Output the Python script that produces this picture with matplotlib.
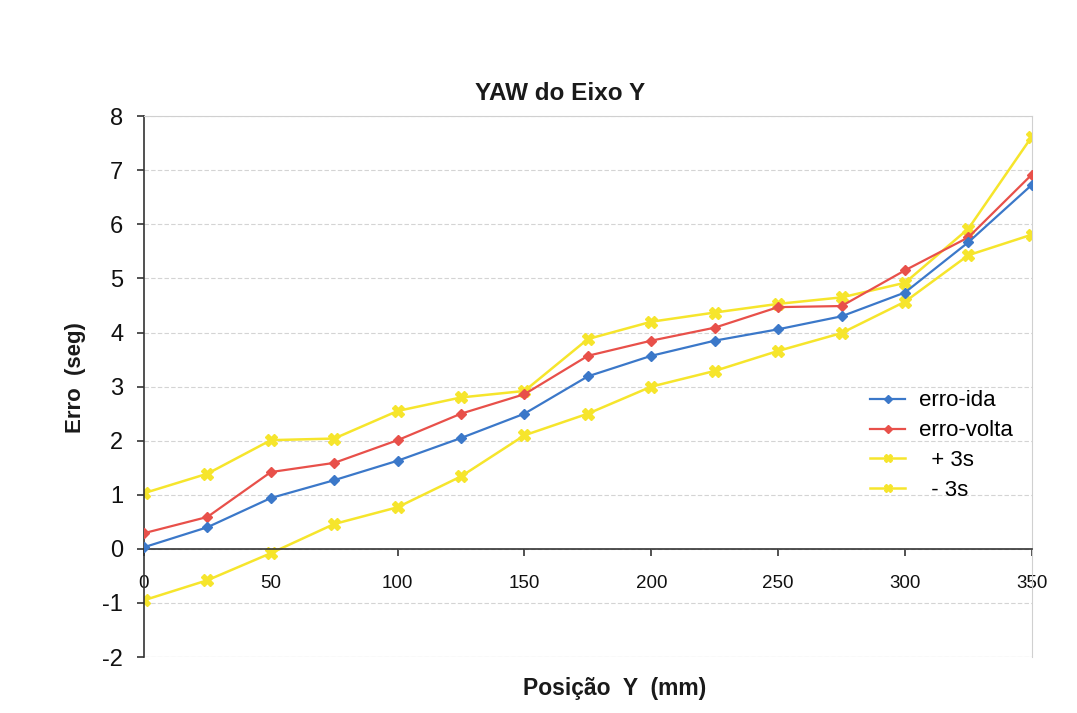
import matplotlib
matplotlib.use("Agg")
import matplotlib.pyplot as plt

plt.rcParams['font.family'] = ['Liberation Sans', 'DejaVu Sans']
plt.rcParams['axes.unicode_minus'] = False

posicao = [0, 25, 50, 75, 100, 125, 150, 175, 200, 225, 250, 275, 300, 325, 350]
erro_ida = [0.03, 0.40, 0.94, 1.27, 1.63, 2.05, 2.50, 3.19, 3.57, 3.85, 4.06, 4.30, 4.74, 5.67, 6.73]
erro_volta = [0.29, 0.59, 1.42, 1.59, 2.01, 2.50, 2.86, 3.57, 3.85, 4.09, 4.47, 4.49, 5.15, 5.76, 6.92]
mais_3s = [1.03, 1.39, 2.01, 2.04, 2.55, 2.80, 2.92, 3.88, 4.20, 4.37, 4.53, 4.65, 4.92, 5.92, 7.62]
menos_3s = [-0.95, -0.58, -0.08, 0.46, 0.77, 1.34, 2.10, 2.50, 3.00, 3.29, 3.66, 3.99, 4.57, 5.43, 5.81]

titulo = "YAW do Eixo Y"
rotulo_x = "Posição  Y  (mm)"
rotulo_y = "Erro  (seg)"
x_ticks = [0, 50, 100, 150, 200, 250, 300, 350]
y_ticks = [-2, -1, 0, 1, 2, 3, 4, 5, 6, 7, 8]

azul = "#3b78c9"
vermelho = "#e8504a"
amarelo = "#f6e52c"

fig = plt.figure(figsize=(10.77, 7.13), dpi=100)
ax = fig.add_axes([0.1337, 0.0785, 0.958 - 0.1337, 0.837 - 0.0785])

ax.plot(posicao, erro_ida, color=azul, lw=1.6, marker='D', ms=5, label="erro-ida", zorder=4)
ax.plot(posicao, erro_volta, color=vermelho, lw=1.6, marker='D', ms=5, label="erro-volta", zorder=3)
ax.plot(posicao, mais_3s, color=amarelo, lw=1.8, marker='X', ms=8, label="  + 3s", zorder=2)
ax.plot(posicao, menos_3s, color=amarelo, lw=1.8, marker='X', ms=8, label="  - 3s", zorder=2)

ax.set_xlim(0, 350)
ax.set_ylim(-2, 8)
ax.set_xticks(x_ticks)
ax.set_yticks(y_ticks)

ax.grid(axis='y', color='#d4d4d4', lw=0.8, linestyle=(0, (4, 2)), zorder=0)
ax.set_axisbelow(True)

for s in ('top', 'right'):
    ax.spines[s].set_color('#d0d0d0')
    ax.spines[s].set_linewidth(0.8)
ax.spines['left'].set_color('#333333')
ax.spines['left'].set_linewidth(1.2)
ax.spines['bottom'].set_position(('data', 0))
ax.spines['bottom'].set_color('#333333')
ax.spines['bottom'].set_linewidth(1.2)
# light frame along the bottom of the plot area
ax.axhline(-2, color='#d0d0d0', lw=0.8, zorder=0)

ax.tick_params(axis='y', direction='out', length=5, width=1.2, color='#333333',
               labelsize=17, pad=10, labelcolor='#111111')
ax.tick_params(axis='x', direction='out', length=5, width=1.2, color='#333333',
               labelsize=13.5, pad=14, labelcolor='#111111')

fig.text(560 / 1077, 1 - 93 / 713, titulo, ha='center', va='center', fontsize=17.5,
         fontweight='bold', color='#1a1a1a')
fig.text(615 / 1077, 1 - 688 / 713, rotulo_x, ha='center', va='center', fontsize=16.5,
         fontweight='bold', color='#1a1a1a')
fig.text(75 / 1077, 1 - 378 / 713, rotulo_y, ha='center', va='center', rotation=90,
         fontsize=16, fontweight='bold', color='#1a1a1a')

ax.legend(loc='upper left', bbox_to_anchor=(0.8176, 0.493), frameon=False,
          fontsize=16, handlelength=1.6, handletextpad=0.6, labelspacing=0.4,
          borderaxespad=0, borderpad=0, markerscale=0.75)

fig.savefig("out.png", dpi=100, facecolor='white')
